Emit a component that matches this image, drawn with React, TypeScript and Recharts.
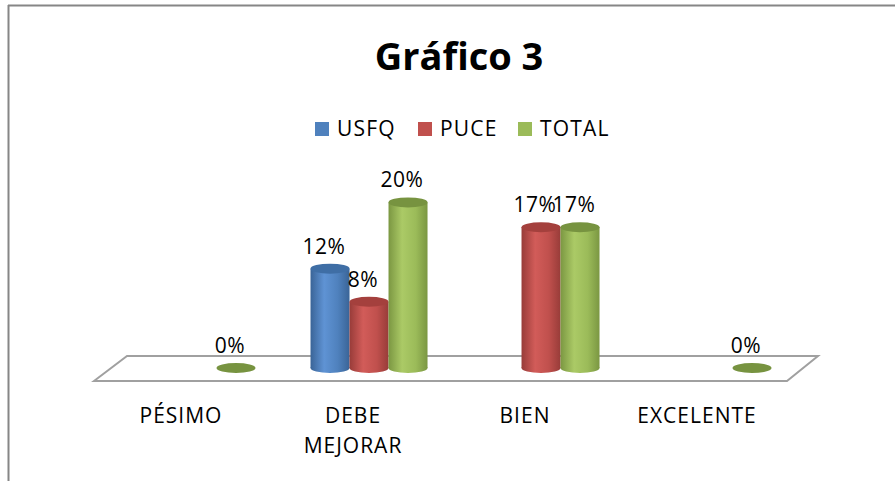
import { BarChart, Bar, XAxis, YAxis, LabelList } from 'recharts'

const categories = ['PÉSIMO', 'DEBE MEJORAR', 'BIEN', 'EXCELENTE']
const usfq = [null, 0.12, null, null]
const puce = [null, 0.08, 0.17, null]
const total = [0, 0.2, 0.17, 0]

const seriesNames = ['USFQ', 'PUCE', 'TOTAL']

const data = categories.map((c, i) => ({
  category: c,
  usfq: usfq[i],
  puce: puce[i],
  total: total[i],
}))

const FONT = '"Open Sans", sans-serif'

const palette = {
  usfq: { base: '#4F81BD', light: '#5f93d4', dark: '#3a6497', top: '#3f6ea5' },
  puce: { base: '#C0504D', light: '#d25c59', dark: '#983c39', top: '#a4403d' },
  total: { base: '#9BBB59', light: '#abca66', dark: '#7b9742', top: '#779340' },
}
type Key = keyof typeof palette
const keys: Key[] = ['usfq', 'puce', 'total']

function Cylinder(props: any) {
  const { x, y, width, height, payload, k } = props
  if (payload == null || payload[k] == null) return null
  const c = palette[k as Key]
  const cx = x + width / 2
  const rx = width / 2
  const ry = 5
  const bottom = y + height
  return (
    <g>
      {height > 0 && (
        <>
          <ellipse cx={cx} cy={bottom} rx={rx} ry={ry} fill={`url(#grad-${k})`} />
          <rect x={x} y={y} width={width} height={height} fill={`url(#grad-${k})`} />
        </>
      )}
      <ellipse cx={cx} cy={y} rx={rx} ry={ry} fill={c.top} />
    </g>
  )
}

function ValueLabel(props: any) {
  const { x, y, width, value } = props
  if (value == null) return null
  return (
    <text x={x + width / 2 - 6} y={y - 15} textAnchor="middle" fontFamily={FONT} fontSize={21} letterSpacing={0.5} fill="#000">
      {`${Math.round(value * 100)}%`}
    </text>
  )
}

function CategoryTick(props: any) {
  const { x, y, payload } = props
  const words = String(payload.value).split(' ')
  return (
    <g>
      {words.map((w, i) => (
        <text key={i} x={x - 16} y={y + 47 + i * 30} textAnchor="middle" fontFamily={FONT} fontSize={21} letterSpacing={1} fill="#000">
          {w}
        </text>
      ))}
    </g>
  )
}

const legendX = [315, 418, 518]

export default function App() {
  return (
    <div style={{ position: 'absolute', left: 0, top: 0, width: 895, height: 481, background: '#fff' }}>
      <svg width={895} height={481} style={{ position: 'absolute', left: 0, top: 0 }}>
        <line x1={8} y1={5.5} x2={895} y2={5.5} stroke="#868686" strokeWidth={2} />
        <line x1={8.5} y1={5} x2={8.5} y2={481} stroke="#868686" strokeWidth={2} />
        <text x={459} y={70} textAnchor="middle" fontFamily={FONT} fontWeight={700} fontSize={38} fill="#000">
          Gráfico 3
        </text>
        {keys.map((k, i) => (
          <g key={k}>
            <rect x={legendX[i]} y={122} width={14} height={14} fill={palette[k].base} />
            <text x={legendX[i] + 22} y={136} fontFamily={FONT} fontSize={21} letterSpacing={1.2} fill="#000">
              {seriesNames[i]}
            </text>
          </g>
        ))}
        <polygon points="94,381 127,356 818,356 787,381" fill="#fff" stroke="#a0a0a0" strokeWidth={2} />
      </svg>
      <div style={{ position: 'absolute', left: 0, top: 0 }}>
        <BarChart
          width={895}
          height={481}
          data={data}
          margin={{ top: 161, right: 96, bottom: 83, left: 111 }}
          barCategoryGap="16%"
          barGap={0}
        >
          <defs>
            {keys.map(k => (
              <linearGradient key={k} id={`grad-${k}`} x1="0" y1="0" x2="1" y2="0">
                <stop offset="0%" stopColor={palette[k].dark} />
                <stop offset="35%" stopColor={palette[k].light} />
                <stop offset="70%" stopColor={palette[k].base} />
                <stop offset="100%" stopColor={palette[k].dark} />
              </linearGradient>
            ))}
          </defs>
          <XAxis
            dataKey="category"
            axisLine={false}
            tickLine={false}
            height={30}
            interval={0}
            tick={<CategoryTick />}
          />
          <YAxis hide domain={[0, 0.25]} />
          {keys.map((k, i) => (
            <Bar
              key={k}
              dataKey={k}
              name={seriesNames[i]}
              fill={palette[k].base}
              isAnimationActive={false}
              shape={(p: any) => <Cylinder {...p} k={k} />}
            >
              <LabelList dataKey={k} content={<ValueLabel />} />
            </Bar>
          ))}
        </BarChart>
      </div>
    </div>
  )
}
